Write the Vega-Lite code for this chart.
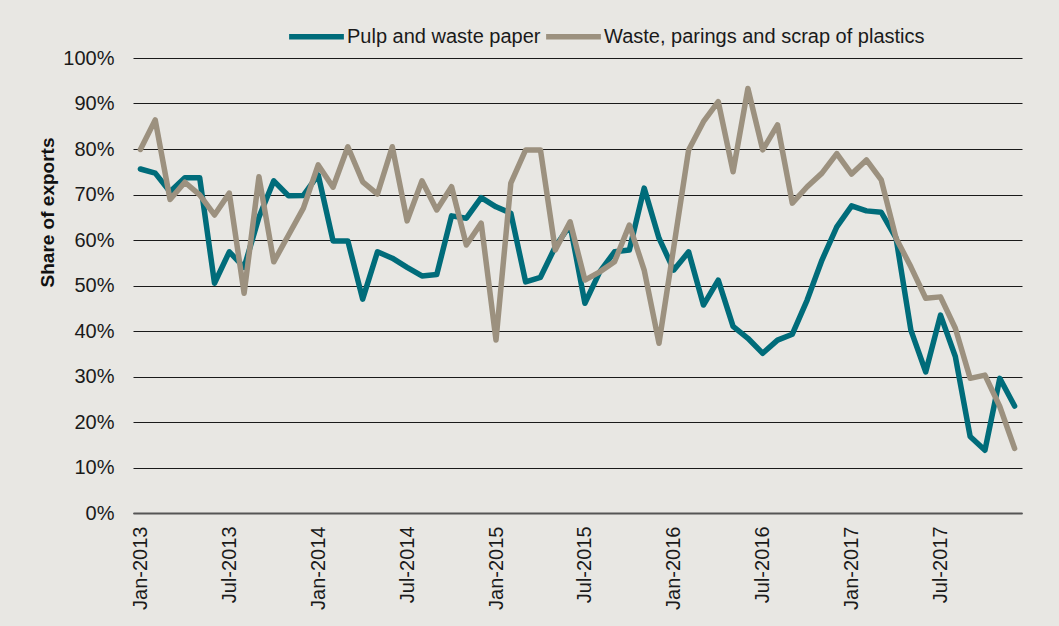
{
  "$schema": "https://vega.github.io/schema/vega-lite/v6.json",
  "width": 889,
  "height": 455,
  "autosize": {"type": "none"},
  "padding": {"left": 133, "top": 58, "right": 37, "bottom": 113},
  "background": "#E8E7E3",
  "config": {
    "view": {"stroke": null},
    "font": "Liberation Sans"
  },
  "data": {
    "values": [
      {"m": "Jan-2013", "Pulp and waste paper": 75.6, "Waste, parings and scrap of plastics": 79.9},
      {"m": "Feb-2013", "Pulp and waste paper": 74.7, "Waste, parings and scrap of plastics": 86.4},
      {"m": "Mar-2013", "Pulp and waste paper": 70.6, "Waste, parings and scrap of plastics": 68.9},
      {"m": "Apr-2013", "Pulp and waste paper": 73.7, "Waste, parings and scrap of plastics": 72.7},
      {"m": "May-2013", "Pulp and waste paper": 73.7, "Waste, parings and scrap of plastics": 69.9},
      {"m": "Jun-2013", "Pulp and waste paper": 50.5, "Waste, parings and scrap of plastics": 65.5},
      {"m": "Jul-2013", "Pulp and waste paper": 57.4, "Waste, parings and scrap of plastics": 70.3},
      {"m": "Aug-2013", "Pulp and waste paper": 54.0, "Waste, parings and scrap of plastics": 48.3},
      {"m": "Sep-2013", "Pulp and waste paper": 65.0, "Waste, parings and scrap of plastics": 73.9},
      {"m": "Oct-2013", "Pulp and waste paper": 73.0, "Waste, parings and scrap of plastics": 55.2},
      {"m": "Nov-2013", "Pulp and waste paper": 69.7, "Waste, parings and scrap of plastics": 61.1},
      {"m": "Dec-2013", "Pulp and waste paper": 69.8, "Waste, parings and scrap of plastics": 67.0},
      {"m": "Jan-2014", "Pulp and waste paper": 74.3, "Waste, parings and scrap of plastics": 76.5},
      {"m": "Feb-2014", "Pulp and waste paper": 59.8, "Waste, parings and scrap of plastics": 71.6},
      {"m": "Mar-2014", "Pulp and waste paper": 59.8, "Waste, parings and scrap of plastics": 80.5},
      {"m": "Apr-2014", "Pulp and waste paper": 47.0, "Waste, parings and scrap of plastics": 72.8},
      {"m": "May-2014", "Pulp and waste paper": 57.4, "Waste, parings and scrap of plastics": 70.1},
      {"m": "Jun-2014", "Pulp and waste paper": 56.0, "Waste, parings and scrap of plastics": 80.5},
      {"m": "Jul-2014", "Pulp and waste paper": 54.0, "Waste, parings and scrap of plastics": 64.2},
      {"m": "Aug-2014", "Pulp and waste paper": 52.1, "Waste, parings and scrap of plastics": 73.0},
      {"m": "Sep-2014", "Pulp and waste paper": 52.4, "Waste, parings and scrap of plastics": 66.6},
      {"m": "Oct-2014", "Pulp and waste paper": 65.3, "Waste, parings and scrap of plastics": 71.7},
      {"m": "Nov-2014", "Pulp and waste paper": 64.8, "Waste, parings and scrap of plastics": 58.9},
      {"m": "Dec-2014", "Pulp and waste paper": 69.3, "Waste, parings and scrap of plastics": 63.7},
      {"m": "Jan-2015", "Pulp and waste paper": 67.3, "Waste, parings and scrap of plastics": 38.0},
      {"m": "Feb-2015", "Pulp and waste paper": 65.9, "Waste, parings and scrap of plastics": 72.5},
      {"m": "Mar-2015", "Pulp and waste paper": 50.8, "Waste, parings and scrap of plastics": 79.8},
      {"m": "Apr-2015", "Pulp and waste paper": 51.8, "Waste, parings and scrap of plastics": 79.8},
      {"m": "May-2015", "Pulp and waste paper": 58.5, "Waste, parings and scrap of plastics": 57.8},
      {"m": "Jun-2015", "Pulp and waste paper": 63.3, "Waste, parings and scrap of plastics": 64.0},
      {"m": "Jul-2015", "Pulp and waste paper": 46.1, "Waste, parings and scrap of plastics": 51.2},
      {"m": "Aug-2015", "Pulp and waste paper": 53.0, "Waste, parings and scrap of plastics": 53.0},
      {"m": "Sep-2015", "Pulp and waste paper": 57.4, "Waste, parings and scrap of plastics": 55.2},
      {"m": "Oct-2015", "Pulp and waste paper": 57.8, "Waste, parings and scrap of plastics": 63.3},
      {"m": "Nov-2015", "Pulp and waste paper": 71.4, "Waste, parings and scrap of plastics": 53.4},
      {"m": "Dec-2015", "Pulp and waste paper": 60.4, "Waste, parings and scrap of plastics": 37.3},
      {"m": "Jan-2016", "Pulp and waste paper": 53.4, "Waste, parings and scrap of plastics": 58.5},
      {"m": "Feb-2016", "Pulp and waste paper": 57.4, "Waste, parings and scrap of plastics": 79.8},
      {"m": "Mar-2016", "Pulp and waste paper": 45.7, "Waste, parings and scrap of plastics": 86.0},
      {"m": "Apr-2016", "Pulp and waste paper": 51.2, "Waste, parings and scrap of plastics": 90.4},
      {"m": "May-2016", "Pulp and waste paper": 41.0, "Waste, parings and scrap of plastics": 75.0},
      {"m": "Jun-2016", "Pulp and waste paper": 38.4, "Waste, parings and scrap of plastics": 93.3},
      {"m": "Jul-2016", "Pulp and waste paper": 35.1, "Waste, parings and scrap of plastics": 79.8},
      {"m": "Aug-2016", "Pulp and waste paper": 38.0, "Waste, parings and scrap of plastics": 85.3},
      {"m": "Sep-2016", "Pulp and waste paper": 39.3, "Waste, parings and scrap of plastics": 68.1},
      {"m": "Oct-2016", "Pulp and waste paper": 46.8, "Waste, parings and scrap of plastics": 71.7},
      {"m": "Nov-2016", "Pulp and waste paper": 55.6, "Waste, parings and scrap of plastics": 74.7},
      {"m": "Dec-2016", "Pulp and waste paper": 62.9, "Waste, parings and scrap of plastics": 79.0},
      {"m": "Jan-2017", "Pulp and waste paper": 67.5, "Waste, parings and scrap of plastics": 74.5},
      {"m": "Feb-2017", "Pulp and waste paper": 66.4, "Waste, parings and scrap of plastics": 77.6},
      {"m": "Mar-2017", "Pulp and waste paper": 66.1, "Waste, parings and scrap of plastics": 73.2},
      {"m": "Apr-2017", "Pulp and waste paper": 60.4, "Waste, parings and scrap of plastics": 60.4},
      {"m": "May-2017", "Pulp and waste paper": 40.2, "Waste, parings and scrap of plastics": 54.1},
      {"m": "Jun-2017", "Pulp and waste paper": 31.0, "Waste, parings and scrap of plastics": 47.2},
      {"m": "Jul-2017", "Pulp and waste paper": 43.5, "Waste, parings and scrap of plastics": 47.5},
      {"m": "Aug-2017", "Pulp and waste paper": 34.4, "Waste, parings and scrap of plastics": 40.6},
      {"m": "Sep-2017", "Pulp and waste paper": 16.8, "Waste, parings and scrap of plastics": 29.6},
      {"m": "Oct-2017", "Pulp and waste paper": 13.8, "Waste, parings and scrap of plastics": 30.3},
      {"m": "Nov-2017", "Pulp and waste paper": 29.6, "Waste, parings and scrap of plastics": 23.4},
      {"m": "Dec-2017", "Pulp and waste paper": 23.5, "Waste, parings and scrap of plastics": 14.2}
    ]
  },
  "transform": [
    {"fold": ["Pulp and waste paper", "Waste, parings and scrap of plastics"], "as": ["series", "value"]}
  ],
  "mark": {"type": "line", "strokeWidth": 5.5, "strokeJoin": "round", "strokeCap": "round"},
  "encoding": {
    "x": {
      "field": "m",
      "type": "ordinal",
      "sort": null,
      "scale": {"type": "point", "padding": 0.5},
      "axis": {
        "title": null,
        "values": ["Jan-2013", "Jul-2013", "Jan-2014", "Jul-2014", "Jan-2015", "Jul-2015", "Jan-2016", "Jul-2016", "Jan-2017", "Jul-2017"],
        "labelAngle": -90,
        "labelFontSize": 20,
        "labelColor": "#1a1a1a",
        "labelPadding": 13,
        "ticks": false,
        "tickSize": 0,
        "domainColor": "#555555",
        "domainWidth": 2,
        "grid": false
      }
    },
    "y": {
      "field": "value",
      "type": "quantitative",
      "scale": {"domain": [0, 100], "nice": false},
      "axis": {
        "values": [0, 10, 20, 30, 40, 50, 60, 70, 80, 90, 100],
        "labelExpr": "datum.value + '%'",
        "labelFontSize": 20,
        "labelColor": "#1a1a1a",
        "labelPadding": 19,
        "ticks": false,
        "tickSize": 0,
        "domain": false,
        "grid": true,
        "gridColor": "#1a1a1a",
        "gridWidth": 1.2,
        "title": "Share of exports",
        "titleFontSize": 19,
        "titleFontWeight": "bold",
        "titleColor": "#111111",
        "titleAnchor": "middle",
        "titleAngle": -90,
        "titleBaseline": "middle",
        "titleX": -86,
        "titleY": 154
      }
    },
    "color": {
      "field": "series",
      "type": "nominal",
      "scale": {"domain": ["Pulp and waste paper", "Waste, parings and scrap of plastics"], "range": ["#006C7A", "#9C917F"]},
      "legend": {
        "title": null,
        "orient": "none",
        "direction": "horizontal",
        "legendX": 153,
        "legendY": -52,
        "padding": 0,
        "symbolType": "stroke",
        "symbolSize": 3000,
        "symbolStrokeWidth": 5.5,
        "labelFontSize": 20,
        "labelColor": "#1a1a1a",
        "labelOffset": 0,
        "labelLimit": 0,
        "columnPadding": -6
      }
    }
  }
}
